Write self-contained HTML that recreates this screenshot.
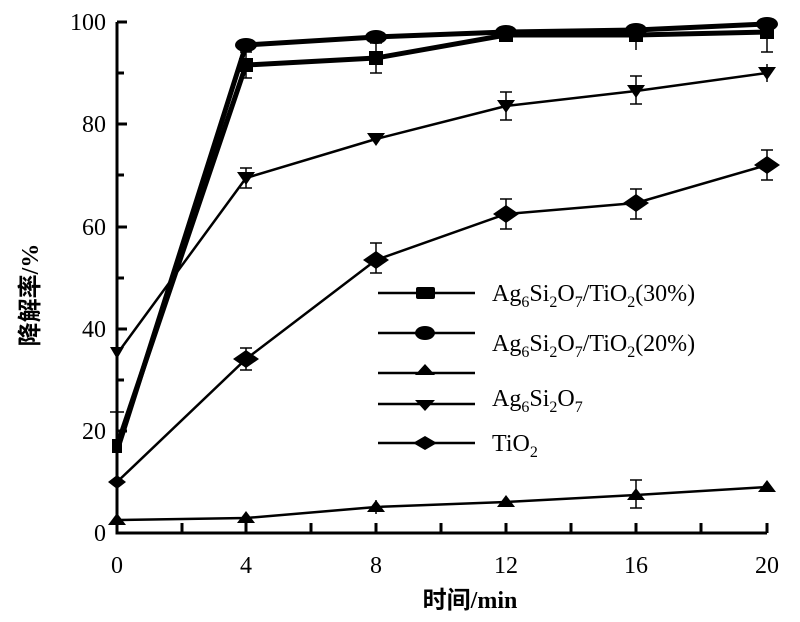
<!DOCTYPE html>
<html><head><meta charset="utf-8"><style>body{margin:0;background:#fff}svg{display:block}</style></head><body>
<svg width="800" height="622" xmlns="http://www.w3.org/2000/svg" font-family="'Liberation Serif','Noto Serif CJK SC',serif">
<g stroke="#000" stroke-width="3" fill="none">
<path d="M117,22 V533 H767"/>
<path d="M117,22 h10 M117,124 h10 M117,227 h10 M117,329 h10 M117,431 h10 M117,73 h7 M117,175 h7 M117,278 h7 M117,380 h7 M117,482 h7"/>
<path d="M182,533 v-10 M246,533 v-10 M311,533 v-10 M376,533 v-10 M441,533 v-10 M506,533 v-10 M571,533 v-10 M636,533 v-10 M701,533 v-10 M767,533 v-10"/>
</g>
<g font-size="24" text-anchor="end">
<text x="106" y="541">0</text><text x="106" y="439">20</text><text x="106" y="337">40</text><text x="106" y="235">60</text><text x="106" y="132">80</text><text x="106" y="30">100</text>
</g>
<g font-size="24" text-anchor="middle">
<text x="117" y="573">0</text><text x="246" y="573">4</text><text x="376" y="573">8</text><text x="506" y="573">12</text><text x="636" y="573">16</text><text x="767" y="573">20</text>
<text x="470" y="608" font-weight="bold"><tspan font-family="'Noto Sans CJK SC',sans-serif">时间</tspan>/min</text>
<text transform="translate(38,295) rotate(-90)" font-weight="bold"><tspan font-family="'Noto Sans CJK SC',sans-serif">降解率</tspan>/%</text>
</g>
<g stroke="#000" stroke-width="2.5" fill="none">
<polyline stroke-width="5" points="117,446 246,65 376,58 506,35 636,35 767,32"/>
<polyline stroke-width="5" points="117,451 246,45 376,37 506,32 636,30 767,24"/>
<polyline points="117,520 246,518 376,507 506,502 636,495 767,487"/>
<polyline points="117,354 246,178 376,139 506,106 636,91 767,73"/>
<polyline points="117,482 246,359 376,260 506,214 636,203 767,165"/>
<path stroke-width="1.5" d="M246,52v26M240,52h12M240,78h12 M376,43v30M370,43h12M370,73h12 M636,25v25 M767,22v30M761,52h12 M246,348v22M240,348h12M240,370h12 M376,243v30M370,243h12M370,273h12 M506,199v30M500,199h12M500,229h12 M636,189v30M630,189h12M630,219h12 M767,150v30M761,150h12M761,180h12 M246,168v20M240,168h12M240,188h12 M506,92v28M500,92h12M500,120h12 M636,76v28M630,76h12M630,104h12 M767,64v18 M636,480v28M630,480h12M630,508h12 M376,500v14 M117,412v55M110,412h14"/>
</g>
<g fill="#000">
<rect x="239" y="58" width="14" height="14"/><rect x="369" y="51" width="14" height="14"/><rect x="499" y="28" width="14" height="14"/><rect x="629" y="28" width="14" height="14"/><rect x="760" y="25" width="14" height="14"/><rect x="112" y="439" width="10" height="14"/>
<ellipse cx="246" cy="45" rx="11" ry="7"/><ellipse cx="376" cy="37" rx="11" ry="7"/><ellipse cx="506" cy="32" rx="11" ry="7"/><ellipse cx="636" cy="30" rx="11" ry="7"/><ellipse cx="767" cy="24" rx="11" ry="7"/>
<path d="M117,513l9,12h-18z M246,511l9,12h-18z M376,500l9,12h-18z M506,495l9,12h-18z M636,488l9,12h-18z M767,480l9,12h-18z"/>
<path d="M110,347h14l-7,12z M237,172h18l-9,13z M367,133h18l-9,13z M497,100h18l-9,13z M627,85h18l-9,13z M758,67h18l-9,13z"/>
<path d="M117,475l9,7-9,7-9-7z M246,350l13,9-13,9-13-9z M376,251l13,9-13,9-13-9z M506,205l13,9-13,9-13-9z M636,194l13,9-13,9-13-9z M767,156l13,9-13,9-13-9z"/>
</g>
<g stroke="#000" stroke-width="2.5"><path d="M378,293h97 M378,333h97 M378,373h97 M378,404h97 M378,443h97"/></g>
<g fill="#000">
<rect x="416" y="287" width="19" height="12" rx="2"/>
<ellipse cx="425" cy="333" rx="10" ry="7"/>
<path d="M425,364l10,11h-20z M415,400h20l-10,11z M425,436l12,7-12,7-12-7z"/>
</g>
<g font-size="24">
<text x="492" y="301">Ag<tspan font-size="16" dy="6">6</tspan><tspan dy="-6">Si</tspan><tspan font-size="16" dy="6">2</tspan><tspan dy="-6">O</tspan><tspan font-size="16" dy="6">7</tspan><tspan dy="-6">/TiO</tspan><tspan font-size="16" dy="6">2</tspan><tspan dy="-6">(30%)</tspan></text>
<text x="492" y="351">Ag<tspan font-size="16" dy="6">6</tspan><tspan dy="-6">Si</tspan><tspan font-size="16" dy="6">2</tspan><tspan dy="-6">O</tspan><tspan font-size="16" dy="6">7</tspan><tspan dy="-6">/TiO</tspan><tspan font-size="16" dy="6">2</tspan><tspan dy="-6">(20%)</tspan></text>
<text x="492" y="406">Ag<tspan font-size="16" dy="6">6</tspan><tspan dy="-6">Si</tspan><tspan font-size="16" dy="6">2</tspan><tspan dy="-6">O</tspan><tspan font-size="16" dy="6">7</tspan></text>
<text x="492" y="451">TiO<tspan font-size="16" dy="6">2</tspan></text>
</g>
</svg>
</body></html>
